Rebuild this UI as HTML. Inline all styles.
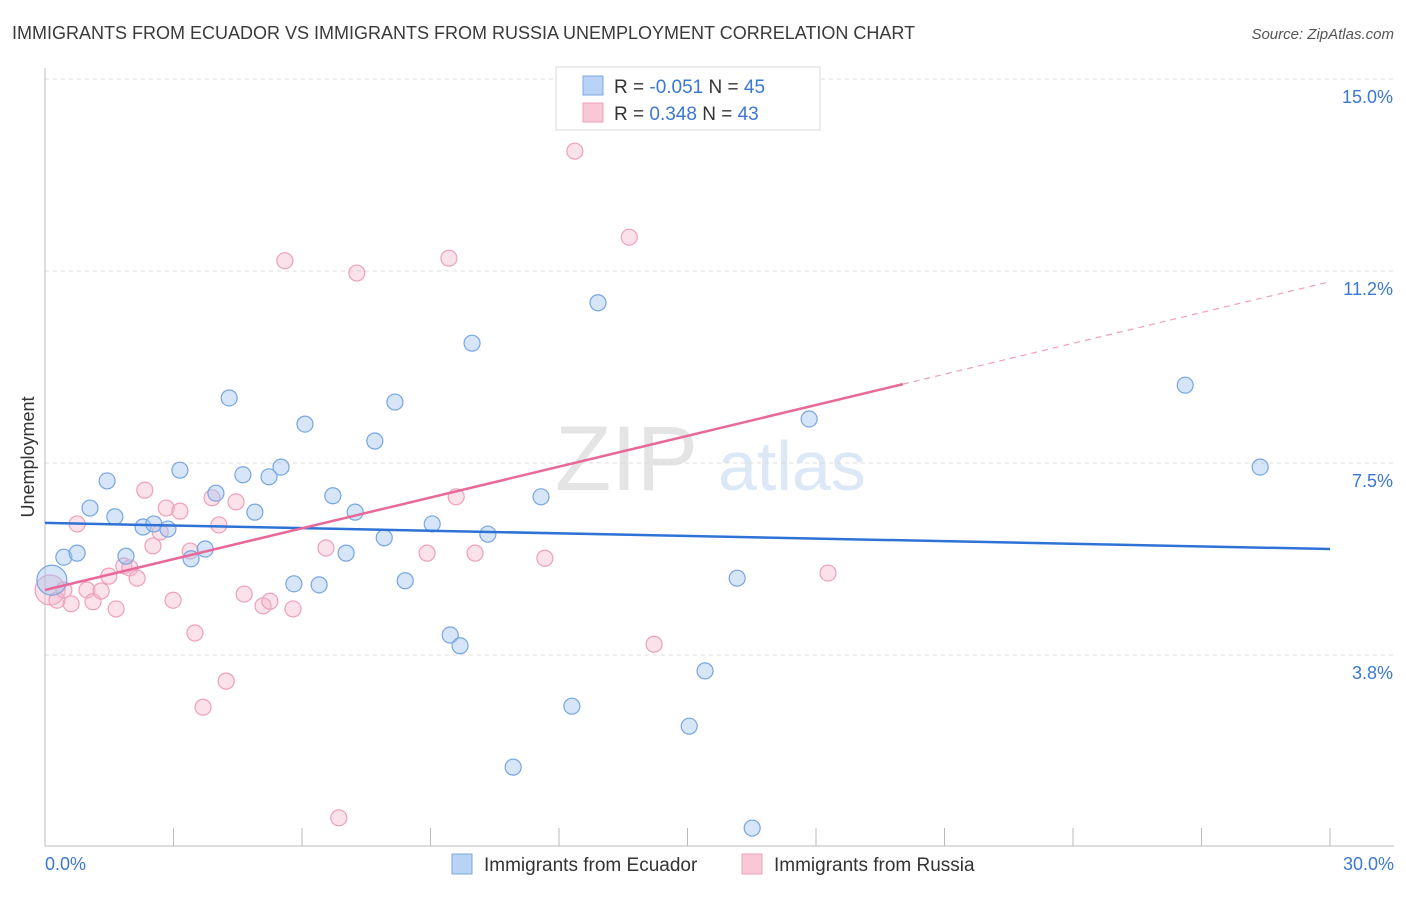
<!DOCTYPE html>
<html><head><meta charset="utf-8"><style>
body{margin:0;background:#fff;font-family:"Liberation Sans",sans-serif;}
svg text{font-family:"Liberation Sans",sans-serif;}
</style></head><body>
<svg id="chart" width="1406" height="892" xmlns="http://www.w3.org/2000/svg">
<text x="12" y="39" font-size="18" fill="#3a3a3a">IMMIGRANTS FROM ECUADOR VS IMMIGRANTS FROM RUSSIA UNEMPLOYMENT CORRELATION CHART</text>
<text x="1394" y="39" font-size="15" fill="#555" text-anchor="end" font-style="italic">Source: ZipAtlas.com</text>
<text x="555" y="490" font-size="92" fill="#e4e4e4" font-family="Liberation Serif">ZIP</text>
<text x="718" y="490" font-size="70" fill="#dce8f6">atlas</text>
<g id="grid"></g>
<g id="axes"></g>
<g id="points"></g>
<g id="trends"></g>
<text transform="translate(34,457) rotate(-90)" font-size="18" fill="#333" text-anchor="middle">Unemployment</text>
<text x="45" y="870" font-size="18" fill="#3b78d0">0.0%</text>
<text x="1394" y="870" font-size="18" fill="#3b78d0" text-anchor="end">30.0%</text>
<g>
<rect x="556" y="67" width="264" height="63" fill="#fff" stroke="#d8d8d8"/>
<rect x="583" y="76" width="20" height="19" fill="#b8d3f5" stroke="#7aa8e0"/>
<rect x="583" y="103" width="20" height="19" fill="#f9c8d6" stroke="#f0a0b8"/>
<text x="614" y="93" font-size="19" fill="#333">R = <tspan fill="#3b78d0">-0.051</tspan>   N = <tspan fill="#3b78d0">45</tspan></text>
<text x="614" y="120" font-size="19" fill="#333">R =  <tspan fill="#3b78d0"> 0.348</tspan>   N = <tspan fill="#3b78d0">43</tspan></text>
</g>
<g>
<rect x="452" y="854" width="20" height="20" fill="#b8d3f5" stroke="#7aa8e0"/>
<text x="484" y="871" font-size="19" fill="#333">Immigrants from Ecuador</text>
<rect x="742" y="854" width="20" height="20" fill="#f9c8d6" stroke="#f0a0b8"/>
<text x="774" y="871" font-size="19" fill="#333">Immigrants from Russia</text>
</g>
</svg>
<script>
const yTicks=[15.0,11.25,7.5,3.75];
const yTickLabels=["15.0%","11.2%","7.5%","3.8%"];
const xTicks=[0,3,6,9,12,15,18,21,24,27,30];
const ecuadorX=[0.16,0.44,0.75,1.05,1.45,1.63,1.89,2.29,2.54,2.87,3.15,3.41,3.74,3.99,4.30,4.62,4.90,5.23,5.51,5.81,6.07,6.40,6.72,7.03,7.24,7.70,7.92,8.17,8.41,9.04,9.46,9.69,9.97,10.34,10.93,11.58,12.30,12.91,15.41,15.04,16.16,16.51,17.84,26.62,28.37];
const ecuadorY=[5.21,5.66,5.74,6.62,7.15,6.45,5.68,6.25,6.31,6.21,7.36,5.63,5.82,6.91,8.77,7.27,6.54,7.23,7.42,5.14,8.26,5.12,6.86,5.74,6.54,7.93,6.04,8.69,5.20,6.31,4.14,3.93,9.84,6.11,1.56,6.84,2.75,10.63,3.44,2.36,5.25,0.37,8.36,9.02,7.42];
const russiaX=[0.12,0.28,0.44,0.61,0.75,0.98,1.12,1.31,1.49,1.66,1.84,1.98,2.15,2.33,2.52,2.69,2.83,2.99,3.15,3.39,3.50,3.69,3.90,4.06,4.23,4.46,4.65,5.09,5.25,5.60,5.79,6.56,6.86,7.28,8.92,9.43,9.60,10.04,11.67,12.37,13.64,14.22,18.28];
const russiaY=[5.02,4.82,5.02,4.75,6.31,5.02,4.79,5.00,5.29,4.65,5.49,5.45,5.25,6.97,5.88,6.15,6.62,4.82,6.56,5.78,4.18,2.73,6.82,6.29,3.24,6.74,4.94,4.71,4.80,11.45,4.65,5.84,0.57,11.21,5.74,11.50,6.84,5.74,5.64,13.59,11.91,3.96,5.35];
const ecuadorTrend=[6.33,5.82];
const russiaTrend=[5.02,0.2007];
const russiaSolidEnd=20.03;

const NS="http://www.w3.org/2000/svg";
const X0=45,X1=1330;
const xs=v=>X0+(v/30)*(X1-X0);
const ys=v=>79+(15-v)*51.2;
function mk(tag,attrs,parent){const e=document.createElementNS(NS,tag);for(const k in attrs)e.setAttribute(k,attrs[k]);parent.appendChild(e);return e;}
const grid=document.getElementById('grid'),axes=document.getElementById('axes'),pts=document.getElementById('points'),tr=document.getElementById('trends');
yTicks.forEach((t,i)=>{
 const l=mk('line',{x1:X0,x2:1394,y1:ys(t),y2:ys(t),stroke:'#dcdcdc','stroke-dasharray':'4,4'},grid);
 
 
 const tx=mk('text',{x:1393,y:ys(t)+24,'font-size':18,fill:'#3b78d0','text-anchor':'end'},grid);
 tx.textContent=yTickLabels[i];
 
 
});
const ya=mk('line',{x1:X0,x2:X0,y1:68,y2:846,stroke:'#bbb'},axes);


const xa=mk('line',{x1:X0,x2:1394,y1:846,y2:846,stroke:'#bbb'},axes);


xTicks.forEach(t=>{
 const l=mk('line',{x1:xs(t),x2:xs(t),y1:828,y2:846,stroke:'#bbb'},axes);
 
 
});
function dots(X,Y,fill,stroke,name){
 X.forEach((x,i)=>{
  const r=(i===0)?15:8;
  const c=mk('circle',{cx:xs(x),cy:ys(Y[i]),r:r,fill:fill,stroke:stroke,'stroke-width':1.2},pts);
  
  
 });
}
dots(russiaX,russiaY,'rgba(246,180,202,0.4)','#eea0ba','russia-point');
dots(ecuadorX,ecuadorY,'rgba(164,198,240,0.45)','#76a6e0','ecuador-point');
const bl=mk('line',{x1:xs(0),y1:ys(ecuadorTrend[0]),x2:xs(30),y2:ys(ecuadorTrend[1]),stroke:'#2f72d6','stroke-width':2.5},tr);


const rf=v=>russiaTrend[0]+russiaTrend[1]*v;
const pl=mk('line',{x1:xs(0),y1:ys(rf(0)),x2:xs(russiaSolidEnd),y2:ys(rf(russiaSolidEnd)),stroke:'#e8689a','stroke-width':2.5},tr);


const pd=mk('line',{x1:xs(russiaSolidEnd),y1:ys(rf(russiaSolidEnd)),x2:xs(30),y2:ys(rf(30)),stroke:'#eea0ba','stroke-width':1.2,'stroke-dasharray':'6,5'},tr);


</script>
</body></html>
